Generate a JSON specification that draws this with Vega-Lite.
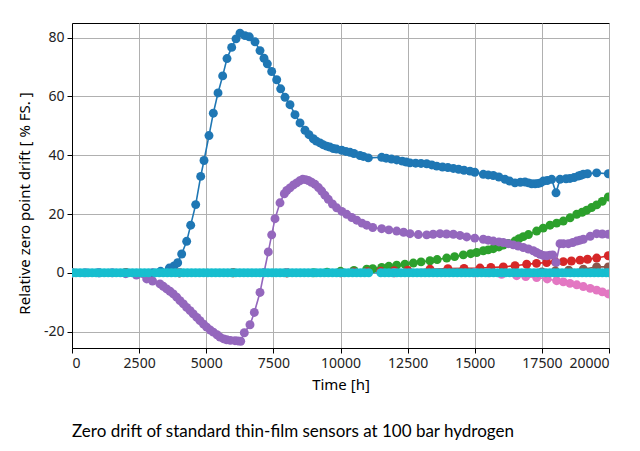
{
  "$schema": "https://vega.github.io/schema/vega-lite/v6.json",
  "width": 537,
  "height": 325,
  "autosize": "none",
  "padding": {"left": 72, "top": 23, "right": 31, "bottom": 103},
  "background": "white",
  "config": {
    "view": {"stroke": "black", "strokeWidth": 1},
    "font": "Noto Sans"
  },
  "title": {
    "text": "Zero drift of standard thin-film sensors at 100 bar hydrogen",
    "orient": "bottom",
    "anchor": "start",
    "frame": "group",
    "offset": 32,
    "font": "Lato",
    "fontSize": 17,
    "fontWeight": "normal",
    "color": "black"
  },
  "data": {
    "values": [
      {"s":"B","x":0,"y":0},{"s":"B","x":1000,"y":0},{"s":"B","x":2000,"y":0},{"s":"B","x":3000,"y":0},
      {"s":"B","x":3300,"y":0.5},{"s":"B","x":3624,"y":1.6},{"s":"B","x":3800,"y":2.3},{"s":"B","x":3936,"y":3.4},
      {"s":"B","x":4085,"y":6.4},{"s":"B","x":4271,"y":10.7},{"s":"B","x":4420,"y":16.2},{"s":"B","x":4607,"y":23.2},
      {"s":"B","x":4793,"y":32.8},{"s":"B","x":4916,"y":38.2},{"s":"B","x":5102,"y":46.7},{"s":"B","x":5263,"y":54.3},
      {"s":"B","x":5438,"y":61.2},{"s":"B","x":5612,"y":67.0},{"s":"B","x":5773,"y":72.9},{"s":"B","x":5947,"y":76.7},
      {"s":"B","x":6108,"y":79.6},{"s":"B","x":6257,"y":81.5},{"s":"B","x":6443,"y":80.7},{"s":"B","x":6604,"y":80.3},
      {"s":"B","x":6816,"y":78.6},{"s":"B","x":7002,"y":75.6},{"s":"B","x":7151,"y":73.0},{"s":"B","x":7275,"y":71.1},
      {"s":"B","x":7437,"y":68.5},{"s":"B","x":7624,"y":65.7},{"s":"B","x":7772,"y":62.6},{"s":"B","x":7933,"y":59.7},
      {"s":"B","x":8119,"y":57.2},{"s":"B","x":8305,"y":53.8},{"s":"B","x":8492,"y":51.0},{"s":"B","x":8678,"y":48.5},
      {"s":"B","x":8827,"y":47.0},{"s":"B","x":8987,"y":45.6},{"s":"B","x":9100,"y":44.8},{"s":"B","x":9236,"y":44.2},
      {"s":"B","x":9350,"y":43.6},{"s":"B","x":9485,"y":43.1},{"s":"B","x":9600,"y":42.8},{"s":"B","x":9733,"y":42.3},
      {"s":"B","x":9850,"y":42.1},{"s":"B","x":10045,"y":41.7},{"s":"B","x":10200,"y":41.3},{"s":"B","x":10354,"y":41.0},
      {"s":"B","x":10500,"y":40.6},{"s":"B","x":10726,"y":39.9},{"s":"B","x":10850,"y":39.6},{"s":"B","x":11036,"y":39.1},
      {"s":"B","x":11534,"y":39.3},{"s":"B","x":11700,"y":39.0},{"s":"B","x":11900,"y":38.7},{"s":"B","x":12093,"y":38.4},
      {"s":"B","x":12300,"y":38.0},{"s":"B","x":12450,"y":37.7},{"s":"B","x":12588,"y":37.4},{"s":"B","x":12800,"y":37.3},
      {"s":"B","x":13000,"y":37.2},{"s":"B","x":13210,"y":37.1},{"s":"B","x":13400,"y":36.7},{"s":"B","x":13583,"y":36.3},
      {"s":"B","x":13800,"y":36.0},{"s":"B","x":14000,"y":35.8},{"s":"B","x":14203,"y":35.5},{"s":"B","x":14400,"y":35.2},
      {"s":"B","x":14600,"y":34.9},{"s":"B","x":14823,"y":34.6},{"s":"B","x":15000,"y":34.2},{"s":"B","x":15319,"y":33.5},
      {"s":"B","x":15500,"y":33.3},{"s":"B","x":15691,"y":33.1},{"s":"B","x":15900,"y":32.6},{"s":"B","x":16127,"y":31.8},
      {"s":"B","x":16300,"y":31.2},{"s":"B","x":16499,"y":30.6},{"s":"B","x":16700,"y":30.8},{"s":"B","x":16872,"y":30.9},
      {"s":"B","x":17000,"y":30.6},{"s":"B","x":17120,"y":30.3},{"s":"B","x":17250,"y":30.3},{"s":"B","x":17368,"y":30.4},
      {"s":"B","x":17450,"y":30.6},{"s":"B","x":17554,"y":31.2},{"s":"B","x":17700,"y":31.4},{"s":"B","x":17865,"y":31.8},
      {"s":"B","x":18026,"y":27.2},{"s":"B","x":18175,"y":31.8},{"s":"B","x":18400,"y":32.0},{"s":"B","x":18547,"y":32.1},
      {"s":"B","x":18700,"y":32.4},{"s":"B","x":18857,"y":32.9},{"s":"B","x":18950,"y":33.2},{"s":"B","x":19044,"y":33.5},
      {"s":"B","x":19200,"y":33.7},{"s":"B","x":19541,"y":34.0},{"s":"B","x":19975,"y":33.7},

      {"s":"G","x":0,"y":0},{"s":"G","x":2000,"y":0},{"s":"G","x":4000,"y":0},{"s":"G","x":6000,"y":0},{"s":"G","x":8000,"y":0},
      {"s":"G","x":9000,"y":0},{"s":"G","x":9500,"y":0.2},{"s":"G","x":10000,"y":0.5},{"s":"G","x":10500,"y":0.8},
      {"s":"G","x":10976,"y":1.2},{"s":"G","x":11200,"y":1.4},{"s":"G","x":11534,"y":1.8},{"s":"G","x":11800,"y":2.2},
      {"s":"G","x":12093,"y":2.6},{"s":"G","x":12400,"y":2.9},{"s":"G","x":12712,"y":3.3},{"s":"G","x":13000,"y":3.7},
      {"s":"G","x":13333,"y":4.1},{"s":"G","x":13600,"y":4.5},{"s":"G","x":13955,"y":5.0},{"s":"G","x":14250,"y":5.5},
      {"s":"G","x":14574,"y":6.1},{"s":"G","x":14850,"y":6.5},{"s":"G","x":15072,"y":6.9},{"s":"G","x":15319,"y":7.5},
      {"s":"G","x":15500,"y":7.8},{"s":"G","x":15691,"y":8.2},{"s":"G","x":15900,"y":8.8},{"s":"G","x":16063,"y":9.4},
      {"s":"G","x":16250,"y":10.0},{"s":"G","x":16499,"y":10.8},{"s":"G","x":16650,"y":11.6},{"s":"G","x":16808,"y":12.3},
      {"s":"G","x":17000,"y":13.0},{"s":"G","x":17305,"y":14.2},{"s":"G","x":17550,"y":15.2},{"s":"G","x":17803,"y":16.2},
      {"s":"G","x":18050,"y":16.9},{"s":"G","x":18298,"y":17.6},{"s":"G","x":18550,"y":18.7},{"s":"G","x":18796,"y":19.9},
      {"s":"G","x":19000,"y":20.6},{"s":"G","x":19169,"y":21.3},{"s":"G","x":19350,"y":22.2},{"s":"G","x":19541,"y":23.1},
      {"s":"G","x":19750,"y":24.3},{"s":"G","x":19975,"y":25.8},

      {"s":"R","x":0,"y":0},{"s":"R","x":2000,"y":0},{"s":"R","x":4000,"y":0},{"s":"R","x":6000,"y":0},{"s":"R","x":8000,"y":0},
      {"s":"R","x":10000,"y":0},{"s":"R","x":10500,"y":0.3},{"s":"R","x":11000,"y":0.4},{"s":"R","x":11500,"y":0.5},
      {"s":"R","x":12000,"y":0.7},{"s":"R","x":12500,"y":0.9},{"s":"R","x":13333,"y":1.2},{"s":"R","x":14000,"y":1.4},
      {"s":"R","x":14600,"y":1.5},{"s":"R","x":15195,"y":1.6},{"s":"R","x":15600,"y":1.8},{"s":"R","x":16063,"y":2.0},
      {"s":"R","x":16500,"y":2.4},{"s":"R","x":16934,"y":2.9},{"s":"R","x":17300,"y":3.2},{"s":"R","x":17679,"y":3.5},
      {"s":"R","x":18000,"y":3.7},{"s":"R","x":18298,"y":3.8},{"s":"R","x":18600,"y":4.0},{"s":"R","x":18920,"y":4.3},
      {"s":"R","x":19200,"y":4.6},{"s":"R","x":19541,"y":5.0},{"s":"R","x":19975,"y":5.8},

      {"s":"P","x":0,"y":0},{"s":"P","x":500,"y":0},{"s":"P","x":1000,"y":0},{"s":"P","x":1500,"y":0},
      {"s":"P","x":2000,"y":-0.3},{"s":"P","x":2400,"y":-0.8},{"s":"P","x":2782,"y":-2.1},{"s":"P","x":3000,"y":-2.8},
      {"s":"P","x":3277,"y":-3.8},{"s":"P","x":3400,"y":-4.6},{"s":"P","x":3527,"y":-5.5},{"s":"P","x":3650,"y":-6.3},
      {"s":"P","x":3773,"y":-7.2},{"s":"P","x":3900,"y":-8.3},{"s":"P","x":4022,"y":-9.5},{"s":"P","x":4150,"y":-10.6},
      {"s":"P","x":4271,"y":-11.8},{"s":"P","x":4400,"y":-12.9},{"s":"P","x":4518,"y":-14.0},{"s":"P","x":4650,"y":-15.2},
      {"s":"P","x":4767,"y":-16.3},{"s":"P","x":4900,"y":-17.5},{"s":"P","x":5017,"y":-18.5},{"s":"P","x":5150,"y":-19.5},
      {"s":"P","x":5263,"y":-20.2},{"s":"P","x":5400,"y":-21.1},{"s":"P","x":5512,"y":-21.9},{"s":"P","x":5650,"y":-22.5},
      {"s":"P","x":5762,"y":-22.8},{"s":"P","x":5900,"y":-23.0},{"s":"P","x":6071,"y":-23.1},{"s":"P","x":6180,"y":-23.2},
      {"s":"P","x":6283,"y":-23.3},{"s":"P","x":6417,"y":-20.4},{"s":"P","x":6629,"y":-17.7},{"s":"P","x":6790,"y":-13.5},
      {"s":"P","x":7002,"y":-6.7},{"s":"P","x":7151,"y":0.1},{"s":"P","x":7311,"y":7.1},{"s":"P","x":7437,"y":12.9},
      {"s":"P","x":7561,"y":18.4},{"s":"P","x":7747,"y":23.8},{"s":"P","x":7907,"y":26.9},{"s":"P","x":8000,"y":28.0},
      {"s":"P","x":8119,"y":28.9},{"s":"P","x":8250,"y":29.9},{"s":"P","x":8368,"y":30.6},{"s":"P","x":8480,"y":31.3},
      {"s":"P","x":8592,"y":31.8},{"s":"P","x":8700,"y":31.7},{"s":"P","x":8800,"y":31.4},{"s":"P","x":8920,"y":30.8},
      {"s":"P","x":9050,"y":30.1},{"s":"P","x":9180,"y":29.0},{"s":"P","x":9300,"y":27.8},{"s":"P","x":9420,"y":26.4},
      {"s":"P","x":9546,"y":25.0},{"s":"P","x":9700,"y":23.4},{"s":"P","x":9858,"y":22.1},{"s":"P","x":10050,"y":20.9},
      {"s":"P","x":10231,"y":19.9},{"s":"P","x":10420,"y":18.8},{"s":"P","x":10603,"y":17.9},{"s":"P","x":10800,"y":16.9},
      {"s":"P","x":10976,"y":16.2},{"s":"P","x":11200,"y":15.4},{"s":"P","x":11534,"y":15.0},{"s":"P","x":11800,"y":14.6},
      {"s":"P","x":12093,"y":14.2},{"s":"P","x":12350,"y":13.8},{"s":"P","x":12588,"y":13.3},{"s":"P","x":12900,"y":13.0},
      {"s":"P","x":13210,"y":12.9},{"s":"P","x":13450,"y":13.1},{"s":"P","x":13706,"y":13.3},{"s":"P","x":13950,"y":13.2},
      {"s":"P","x":14203,"y":13.1},{"s":"P","x":14450,"y":12.7},{"s":"P","x":14700,"y":12.2},{"s":"P","x":15000,"y":11.8},
      {"s":"P","x":15319,"y":11.4},{"s":"P","x":15500,"y":11.1},{"s":"P","x":15691,"y":10.8},{"s":"P","x":15900,"y":10.5},
      {"s":"P","x":16063,"y":10.3},{"s":"P","x":16250,"y":9.9},{"s":"P","x":16436,"y":9.5},{"s":"P","x":16620,"y":9.1},
      {"s":"P","x":16808,"y":8.6},{"s":"P","x":17000,"y":8.1},{"s":"P","x":17181,"y":7.5},{"s":"P","x":17300,"y":6.9},
      {"s":"P","x":17430,"y":6.3},{"s":"P","x":17550,"y":5.9},{"s":"P","x":17679,"y":5.8},{"s":"P","x":17800,"y":6.0},
      {"s":"P","x":17902,"y":6.1},{"s":"P","x":18026,"y":3.5},{"s":"P","x":18175,"y":9.9},{"s":"P","x":18300,"y":9.9},
      {"s":"P","x":18485,"y":9.9},{"s":"P","x":18650,"y":10.3},{"s":"P","x":18796,"y":10.8},{"s":"P","x":18920,"y":11.1},
      {"s":"P","x":19044,"y":11.4},{"s":"P","x":19300,"y":12.4},{"s":"P","x":19541,"y":13.3},{"s":"P","x":19750,"y":13.2},
      {"s":"P","x":19975,"y":13.1},

      {"s":"Br","x":0,"y":0},{"s":"Br","x":4000,"y":0},{"s":"Br","x":8000,"y":0},{"s":"Br","x":12000,"y":0},
      {"s":"Br","x":16000,"y":0},{"s":"Br","x":17000,"y":0},{"s":"Br","x":17500,"y":0.3},{"s":"Br","x":18000,"y":0.6},
      {"s":"Br","x":18500,"y":0.9},{"s":"Br","x":19044,"y":1.2},{"s":"Br","x":19541,"y":2.0},{"s":"Br","x":19975,"y":2.0},

      {"s":"Pk","x":0,"y":0},{"s":"Pk","x":4000,"y":0},{"s":"Pk","x":8000,"y":0},{"s":"Pk","x":12000,"y":0},
      {"s":"Pk","x":15000,"y":0},{"s":"Pk","x":15500,"y":0},{"s":"Pk","x":16000,"y":-0.5},{"s":"Pk","x":16561,"y":-1.0},
      {"s":"Pk","x":16900,"y":-1.3},{"s":"Pk","x":17305,"y":-1.6},{"s":"Pk","x":17700,"y":-2.1},{"s":"Pk","x":18050,"y":-2.7},
      {"s":"Pk","x":18300,"y":-3.1},{"s":"Pk","x":18547,"y":-3.6},{"s":"Pk","x":18800,"y":-4.1},{"s":"Pk","x":19044,"y":-4.7},
      {"s":"Pk","x":19300,"y":-5.3},{"s":"Pk","x":19541,"y":-5.9},{"s":"Pk","x":19750,"y":-6.5},{"s":"Pk","x":19975,"y":-7.2},

      {"s":"C","x":0,"y":0},{"s":"C","x":150,"y":0},{"s":"C","x":300,"y":0},{"s":"C","x":450,"y":0},{"s":"C","x":600,"y":0},
      {"s":"C","x":750,"y":0},{"s":"C","x":900,"y":0},{"s":"C","x":1050,"y":0},{"s":"C","x":1200,"y":0},{"s":"C","x":1350,"y":0},
      {"s":"C","x":1500,"y":0},{"s":"C","x":1650,"y":0},{"s":"C","x":1800,"y":0},{"s":"C","x":1950,"y":0},{"s":"C","x":2100,"y":0},
      {"s":"C","x":2250,"y":0},{"s":"C","x":2400,"y":0},{"s":"C","x":2550,"y":0},{"s":"C","x":2700,"y":0},{"s":"C","x":2850,"y":0},
      {"s":"C","x":3100,"y":0},{"s":"C","x":3250,"y":0},{"s":"C","x":3400,"y":0},{"s":"C","x":3550,"y":0},{"s":"C","x":3700,"y":0},
      {"s":"C","x":3850,"y":0},{"s":"C","x":4000,"y":0},{"s":"C","x":4150,"y":0},{"s":"C","x":4300,"y":0},{"s":"C","x":4450,"y":0},
      {"s":"C","x":4600,"y":0},{"s":"C","x":4750,"y":0},{"s":"C","x":4900,"y":0},{"s":"C","x":5050,"y":0},{"s":"C","x":5200,"y":0},
      {"s":"C","x":5350,"y":0},{"s":"C","x":5500,"y":0},{"s":"C","x":5650,"y":0},{"s":"C","x":5800,"y":0},{"s":"C","x":5950,"y":0},
      {"s":"C","x":6100,"y":0},{"s":"C","x":6250,"y":0},{"s":"C","x":6400,"y":0},{"s":"C","x":6550,"y":0},{"s":"C","x":6700,"y":0},
      {"s":"C","x":6850,"y":0},{"s":"C","x":7000,"y":0},{"s":"C","x":7150,"y":0},{"s":"C","x":7300,"y":0},{"s":"C","x":7450,"y":0},
      {"s":"C","x":7600,"y":0},{"s":"C","x":7750,"y":0},{"s":"C","x":7900,"y":0},{"s":"C","x":8050,"y":0},{"s":"C","x":8200,"y":0},
      {"s":"C","x":8350,"y":0},{"s":"C","x":8500,"y":0},{"s":"C","x":8650,"y":0},{"s":"C","x":8800,"y":0},{"s":"C","x":8950,"y":0},
      {"s":"C","x":9100,"y":0},{"s":"C","x":9250,"y":0},{"s":"C","x":9400,"y":0},{"s":"C","x":9550,"y":0},{"s":"C","x":9700,"y":0},
      {"s":"C","x":9850,"y":0},{"s":"C","x":10000,"y":0},{"s":"C","x":10150,"y":0},{"s":"C","x":10300,"y":0},{"s":"C","x":10450,"y":0},
      {"s":"C","x":10600,"y":0},{"s":"C","x":10750,"y":0},{"s":"C","x":10900,"y":0},{"s":"C","x":11050,"y":0},{"s":"C","x":11500,"y":0},
      {"s":"C","x":11650,"y":0},{"s":"C","x":11800,"y":0},{"s":"C","x":11950,"y":0},{"s":"C","x":12100,"y":0},{"s":"C","x":12250,"y":0},
      {"s":"C","x":12400,"y":0},{"s":"C","x":12550,"y":0},{"s":"C","x":12700,"y":0},{"s":"C","x":12850,"y":0},{"s":"C","x":13000,"y":0},
      {"s":"C","x":13150,"y":0},{"s":"C","x":13300,"y":0},{"s":"C","x":13450,"y":0},{"s":"C","x":13600,"y":0},{"s":"C","x":13750,"y":0},
      {"s":"C","x":13900,"y":0},{"s":"C","x":14050,"y":0},{"s":"C","x":14200,"y":0},{"s":"C","x":14350,"y":0},{"s":"C","x":14500,"y":0},
      {"s":"C","x":14650,"y":0},{"s":"C","x":14800,"y":0},{"s":"C","x":14950,"y":0},{"s":"C","x":15100,"y":0},{"s":"C","x":15250,"y":0},
      {"s":"C","x":15400,"y":0},{"s":"C","x":15550,"y":0},{"s":"C","x":15700,"y":0},{"s":"C","x":15850,"y":0},{"s":"C","x":16000,"y":0},
      {"s":"C","x":16150,"y":0},{"s":"C","x":16300,"y":0},{"s":"C","x":16450,"y":0},{"s":"C","x":16600,"y":0},{"s":"C","x":16750,"y":0},
      {"s":"C","x":16900,"y":0},{"s":"C","x":17050,"y":0},{"s":"C","x":17200,"y":0},{"s":"C","x":17350,"y":0},{"s":"C","x":17500,"y":0},
      {"s":"C","x":17650,"y":0},{"s":"C","x":17800,"y":0},{"s":"C","x":17950,"y":0},{"s":"C","x":18100,"y":0},{"s":"C","x":18250,"y":0},
      {"s":"C","x":18400,"y":0},{"s":"C","x":18550,"y":0},{"s":"C","x":18700,"y":0},{"s":"C","x":18850,"y":0},{"s":"C","x":19000,"y":0},
      {"s":"C","x":19150,"y":0},{"s":"C","x":19300,"y":0},{"s":"C","x":19450,"y":0},{"s":"C","x":19600,"y":0},{"s":"C","x":19750,"y":0},
      {"s":"C","x":19900,"y":0},{"s":"C","x":20000,"y":0}
    ]
  },
  "encoding": {
    "x": {
      "field": "x", "type": "quantitative",
      "scale": {"domain": [0, 20000], "nice": false, "zero": false},
      "axis": {
        "title": "Time [h]",
        "values": [0, 2500, 5000, 7500, 10000, 12500, 15000, 17500, 20000],
        "format": "d",
        "grid": true, "gridColor": "#b0b0b0", "gridWidth": 1,
        "domainColor": "black", "tickColor": "black", "tickSize": 5,
        "labelFont": "Noto Sans", "labelFontSize": 14, "labelColor": "#222222", "labelPadding": 3,
        "titleFont": "Noto Sans", "titleFontSize": 15, "titleFontWeight": "normal", "titleColor": "black", "titlePadding": 7
      }
    },
    "y": {
      "field": "y", "type": "quantitative",
      "scale": {"domain": [-25.6, 85], "nice": false, "zero": false},
      "axis": {
        "title": "Relative zero point drift [ % FS. ]",
        "values": [-20, 0, 20, 40, 60, 80],
        "labelExpr": "datum.value < 0 ? '-' + abs(datum.value) : '' + datum.value",
        "grid": true, "gridColor": "#b0b0b0", "gridWidth": 1,
        "domainColor": "black", "tickColor": "black", "tickSize": 5,
        "labelFont": "Noto Sans", "labelFontSize": 14, "labelColor": "#222222", "labelPadding": 3,
        "titleFont": "Noto Sans", "titleFontSize": 15, "titleFontWeight": "normal", "titleColor": "black", "titlePadding": 11,
        "titleY": 180
      }
    },
    "color": {
      "field": "s", "type": "nominal", "legend": null,
      "scale": {
        "domain": ["B", "G", "R", "P", "Br", "Pk", "C"],
        "range": ["#1f77b4", "#2ca02c", "#d62728", "#9467bd", "#8c564b", "#e377c2", "#17becf"]
      }
    }
  },
  "layer": [
    {"mark": {"type": "line", "strokeWidth": 1.6, "clip": true}, "encoding": {"order": {"field": "x", "type": "quantitative"}}},
    {"mark": {"type": "point", "filled": true, "opacity": 1, "size": 80, "clip": true}}
  ]
}
